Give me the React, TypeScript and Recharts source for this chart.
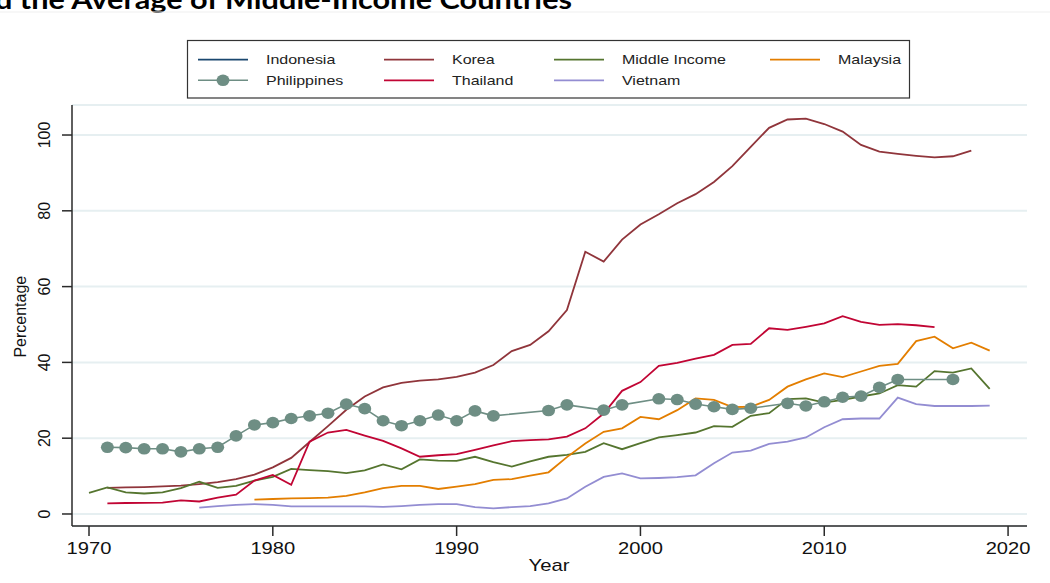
import React from 'react';
import { LineChart, Line, XAxis, YAxis, CartesianGrid } from 'recharts';

// ---------- data ----------
const years: number[] = [
  1970, 1971, 1972, 1973, 1974, 1975, 1976, 1977, 1978, 1979,
  1980, 1981, 1982, 1983, 1984, 1985, 1986, 1987, 1988, 1989,
  1990, 1991, 1992, 1993, 1994, 1995, 1996, 1997, 1998, 1999,
  2000, 2001, 2002, 2003, 2004, 2005, 2006, 2007, 2008, 2009,
  2010, 2011, 2012, 2013, 2014, 2015, 2016, 2017, 2018, 2019,
];
const xTicks = [1970, 1980, 1990, 2000, 2010, 2020];
const yTicks = [0, 20, 40, 60, 80, 100];

const indonesiaStart = 1970;
const indonesia: (number | null)[] = [];

const koreaStart = 1971;
const korea = [
  6.9, 7.0, 7.1, 7.3, 7.5, 7.9, 8.4, 9.2, 10.4,
  12.3, 14.8, 19.0, 23.2, 27.5, 31.0, 33.4, 34.6, 35.2, 35.5,
  36.2, 37.3, 39.3, 43.0, 44.6, 48.2, 53.8, 69.2, 66.6, 72.4,
  76.4, 79.1, 82.0, 84.4, 87.6, 91.8, 96.9, 101.9, 104.1, 104.3,
  102.9, 100.9, 97.4, 95.6, 95.0, 94.5, 94.1, 94.4, 95.9,
];

const middleIncomeStart = 1970;
const middleIncome = [
  5.6, 7.0, 5.7, 5.4, 5.7, 6.8, 8.5, 6.9, 7.4, 8.8,
  9.8, 11.9, 11.6, 11.3, 10.8, 11.5, 13.1, 11.8, 14.4, 14.1,
  14.0, 15.1, 13.7, 12.5, 13.9, 15.1, 15.6, 16.4, 18.7, 17.1,
  18.7, 20.2, 20.8, 21.5, 23.2, 23.0, 25.9, 26.6, 30.3, 30.5,
  29.4, 30.1, 31.0, 31.8, 34.0, 33.6, 37.7, 37.3, 38.4, 33.0,
];

const malaysiaStart = 1979;
const malaysia = [
  3.8,
  3.95, 4.1, 4.2, 4.3, 4.8, 5.7, 6.8, 7.4, 7.4, 6.6,
  7.2, 7.9, 9.0, 9.2, 10.1, 11.0, 15.0, 18.6, 21.7, 22.6,
  25.6, 25.0, 27.4, 30.5, 30.1, 28.2, 28.3, 30.1, 33.6, 35.5,
  37.1, 36.1, 37.6, 39.1, 39.6, 45.6, 46.8, 43.7, 45.2, 43.1,
];

const philippinesStart = 1971;
const philippines: (number | null)[] = [
  17.6, 17.5, 17.2, 17.2, 16.4, 17.2, 17.6, 20.6, 23.5,
  24.1, 25.2, 25.9, 26.6, 29.0, 27.8, 24.6, 23.3, 24.6, 26.1,
  24.6, 27.2, 25.9, null, null, 27.3, 28.8, null, 27.4, 28.8,
  null, 30.4, 30.2, 29.0, 28.3, 27.6, 27.9, null, 29.2, 28.5,
  29.6, 30.8, 31.1, 33.4, 35.5, null, null, 35.5,
];

const thailandStart = 1971;
const thailand = [
  2.8, 2.9, 2.95, 3.0, 3.6, 3.3, 4.3, 5.1, 8.8,
  10.3, 7.7, 19.1, 21.5, 22.2, 20.7, 19.3, 17.3, 15.1, 15.5,
  15.8, 16.9, 18.1, 19.2, 19.5, 19.7, 20.4, 22.6, 26.5, 32.5,
  34.8, 39.1, 39.9, 41.0, 42.0, 44.6, 44.9, 49.0, 48.6, 49.4,
  50.3, 52.2, 50.7, 49.9, 50.1, 49.8, 49.3,
];

const vietnamStart = 1976;
const vietnam = [
  1.7, 2.1, 2.4, 2.6,
  2.4, 2.0, 2.0, 2.0, 2.0, 2.0, 1.9, 2.1, 2.4, 2.6,
  2.6, 1.8, 1.5, 1.8, 2.1, 2.8, 4.1, 7.2, 9.8, 10.7,
  9.4, 9.5, 9.7, 10.2, 13.4, 16.2, 16.7, 18.5, 19.1, 20.2,
  22.9, 25.0, 25.2, 25.2, 30.7, 29.0, 28.5, 28.5, 28.5, 28.6,
];

const seriesNames = ['Indonesia', 'Korea', 'Middle Income', 'Malaysia', 'Philippines', 'Thailand', 'Vietnam'];
const seriesColors = ['#1a476f', '#90353b', '#55752f', '#e37e00', '#6e8e84', '#c10534', '#938dd2'];

const pick = (arr: (number | null)[], start: number, year: number) => {
  const i = year - start;
  return i >= 0 && i < arr.length ? arr[i] : null;
};

const data = years.map((year) => ({
  year,
  Indonesia: pick(indonesia, indonesiaStart, year),
  Korea: pick(korea, koreaStart, year),
  'Middle Income': pick(middleIncome, middleIncomeStart, year),
  Malaysia: pick(malaysia, malaysiaStart, year),
  Philippines: pick(philippines, philippinesStart, year),
  Thailand: pick(thailand, thailandStart, year),
  Vietnam: pick(vietnam, vietnamStart, year),
}));

// ---------- styling ----------
const FONT = '"Liberation Sans", Arial, Helvetica, sans-serif';
const AXIS_COLOR = '#2a2a2a';

const XTick = (props: any) => {
  const { x, y, payload } = props;
  return (
    <g transform={`translate(${x} ${y + 16}) scale(1.26 1)`}>
      <text x={0} y={0} textAnchor="middle" fontSize={16} fontFamily={FONT} fill="#111">
        {payload.value}
      </text>
    </g>
  );
};

const YTick = (props: any) => {
  const { x, y, payload } = props;
  const bx = x - 10;
  return (
    <text
      x={bx}
      y={y}
      transform={`rotate(-90 ${bx} ${y})`}
      textAnchor="middle"
      fontSize={16}
      fontFamily={FONT}
      fill="#111"
    >
      {payload.value}
    </text>
  );
};

const PhilDot = (props: any) => {
  const { cx, cy, value, index } = props;
  if (value === null || value === undefined || cy === null || cy === undefined || isNaN(cy)) {
    return <g key={`pd-${index}`} />;
  }
  return <ellipse key={`pd-${index}`} cx={cx} cy={cy} rx={6.5} ry={5.8} fill="#6e8e84" stroke="none" />;
};

const legendCols = [198, 384, 554, 770];
const legendRows = [59.7, 80.3];

const Overlay = () => (
  <svg
    width={1050}
    height={583}
    style={{ position: 'absolute', left: 0, top: 0, pointerEvents: 'none' }}
  >
    {/* cut-off slide title */}
    <text
      x={-5}
      y={9}
      fontFamily='Lato, "Open Sans", sans-serif'
      fontWeight="bold"
      fontSize={26}
      textLength={577}
      lengthAdjust="spacingAndGlyphs"
      fill="#000"
    >
      d the Average of Middle-Income Countries
    </text>
    <line x1={0} x2={1050} y1={12} y2={12} stroke="#efefef" strokeWidth={1} />

    {/* legend */}
    <rect x={187.5} y={40.5} width={722} height={57.5} fill="#fff" stroke="#333" strokeWidth={1.2} />
    {seriesNames.map((name, i) => {
      const col = i % 4;
      const row = Math.floor(i / 4);
      const lx = legendCols[col];
      const ly = legendRows[row];
      const color = seriesColors[i];
      return (
        <g key={name}>
          <line x1={lx} x2={lx + 50} y1={ly} y2={ly} stroke={color} strokeWidth={name === 'Philippines' ? 1.6 : 1.8} />
          {name === 'Philippines' && <ellipse cx={lx + 25} cy={ly} rx={6.5} ry={5.8} fill={color} />}
          <g transform={`translate(${lx + 68} ${ly + 4.6}) scale(1.23 1)`}>
            <text x={0} y={0} fontSize={13} fontFamily={FONT} fill="#222">
              {name}
            </text>
          </g>
        </g>
      );
    })}

    {/* axis titles */}
    <text
      x={26}
      y={316.7}
      transform="rotate(-90 26 316.7)"
      textAnchor="middle"
      fontSize={16}
      fontFamily={FONT}
      fill="#111"
    >
      Percentage
    </text>
    <g transform="translate(549 571) scale(1.27 1)">
      <text x={0} y={0} textAnchor="middle" fontSize={16} fontFamily={FONT} fill="#111">
        Year
      </text>
    </g>
  </svg>
);

export default function App() {
  return (
    <div
      style={{
        position: 'absolute',
        left: 0,
        top: 0,
        width: 1050,
        height: 583,
        background: '#fff',
        overflow: 'hidden',
        fontFamily: FONT,
      }}
    >
      <LineChart
        width={1050}
        height={583}
        data={data}
        margin={{ top: 105, right: 23, bottom: 27, left: 12 }}
      >
        <CartesianGrid horizontal vertical={false} stroke="#e6eff1" strokeWidth={2} />
        <XAxis
          dataKey="year"
          type="number"
          domain={[1969.075, 2021.03]}
          ticks={xTicks}
          allowDataOverflow
          height={30}
          tickSize={10}
          tickMargin={2}
          axisLine={{ stroke: AXIS_COLOR, strokeWidth: 1.5 }}
          tickLine={{ stroke: AXIS_COLOR, strokeWidth: 1.5 }}
          tick={<XTick />}
          interval={0}
        />
        <YAxis
          type="number"
          domain={[-3.17, 107.92]}
          ticks={yTicks}
          allowDataOverflow
          width={60}
          tickSize={10}
          tickMargin={2}
          axisLine={{ stroke: AXIS_COLOR, strokeWidth: 1.5 }}
          tickLine={{ stroke: AXIS_COLOR, strokeWidth: 1.5 }}
          tick={<YTick />}
          interval={0}
        />
        {seriesNames.map((name, i) => (
          <Line
            key={name}
            type="linear"
            dataKey={name}
            stroke={seriesColors[i]}
            strokeWidth={name === 'Philippines' ? 1.6 : 1.8}
            dot={name === 'Philippines' ? <PhilDot /> : false}
            activeDot={false}
            connectNulls={name === 'Philippines'}
            isAnimationActive={false}
          />
        ))}
      </LineChart>
      <Overlay />
    </div>
  );
}
